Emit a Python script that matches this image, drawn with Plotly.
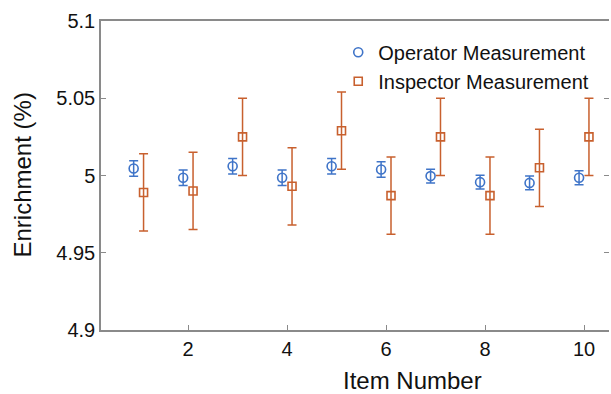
import plotly.graph_objects as go

items = [1, 2, 3, 4, 5, 6, 7, 8, 9, 10]
operator_vals = [5.0045, 4.9985, 5.006, 4.9985, 5.006, 5.0039, 4.9996, 4.9957, 4.9952, 4.9985]
operator_err = [0.005, 0.005, 0.005, 0.005, 0.005, 0.005, 0.0045, 0.0045, 0.0045, 0.0045]
inspector_vals = [4.989, 4.990, 5.025, 4.993, 5.029, 4.987, 5.025, 4.987, 5.005, 5.025]
inspector_err = [0.025, 0.025, 0.025, 0.025, 0.025, 0.025, 0.025, 0.025, 0.025, 0.025]
x_ticks = [2, 4, 6, 8, 10]
y_ticks = [4.9, 4.95, 5.0, 5.05, 5.1]
y_ticklabels = ["4.9", "4.95", "5", "5.05", "5.1"]

BLUE = "#3F74C8"
ORANGE = "#C8602E"
AX = "#8a8a8a"
FONT = "Arial, Liberation Sans, Helvetica, sans-serif"
shift = 0.1

fig = go.Figure()
fig.add_trace(go.Scatter(
    x=[i - shift for i in items], y=operator_vals, mode="markers",
    name="Operator Measurement",
    marker=dict(symbol="circle-open", size=9, color=BLUE, line=dict(width=1.6, color=BLUE)),
    error_y=dict(type="data", array=operator_err, visible=True, color=BLUE, thickness=1.5, width=4.5),
))
fig.add_trace(go.Scatter(
    x=[i + shift for i in items], y=inspector_vals, mode="markers",
    name="Inspector Measurement",
    marker=dict(symbol="square-open", size=8, color=ORANGE, line=dict(width=1.6, color=ORANGE)),
    error_y=dict(type="data", array=inspector_err, visible=True, color=ORANGE, thickness=1.5, width=4.5),
))
# invisible companion trace so the right-hand (tick-only) axis is drawn
fig.add_trace(go.Scatter(
    x=items, y=operator_vals, yaxis="y2", mode="markers", showlegend=False,
    hoverinfo="skip", marker=dict(opacity=0, size=1),
))

fig.update_layout(
    width=611, height=394,
    margin=dict(l=101, r=2, t=21, b=64),
    paper_bgcolor="white", plot_bgcolor="white",
    font=dict(family=FONT, size=20, color="#111111"),
    showlegend=True,
    legend=dict(x=0.467, y=0.962, xanchor="left", yanchor="top",
                bgcolor="rgba(0,0,0,0)", font=dict(size=20, color="#111111"),
                itemwidth=30, tracegroupgap=0),
    annotations=[
        dict(text="Item Number", xref="paper", yref="paper", x=(412 - 101) / 508, y=-(380 - 330) / 309,
             xanchor="center", yanchor="middle", showarrow=False, font=dict(size=24, color="#111111")),
        dict(text="Enrichment (%)", xref="paper", yref="paper", x=-(101 - 22) / 508, y=0.5,
             xanchor="center", yanchor="middle", textangle=-90, showarrow=False,
             font=dict(size=24, color="#111111")),
    ],
    yaxis2=dict(overlaying="y", side="right", range=[4.9, 5.1], tickvals=y_ticks,
                showticklabels=False, showline=False, showgrid=False, zeroline=False,
                ticks="inside", ticklen=5, tickcolor=AX, tickwidth=1.3),
)
fig.update_xaxes(
    range=[0.24, 10.505], tickvals=x_ticks, ticktext=[str(t) for t in x_ticks],
    showline=True, linecolor=AX, linewidth=1.5, mirror=True,
    ticks="inside", ticklen=5, tickcolor=AX, tickwidth=1.3,
    showgrid=False, zeroline=False, tickfont=dict(size=20, color="#111111"),
)
fig.update_layout(yaxis=dict(
    range=[4.9, 5.1], tickvals=y_ticks, ticktext=y_ticklabels,
    showline=True, linecolor=AX, linewidth=1.5, mirror=False,
    ticks="inside", ticklen=5, tickcolor=AX, tickwidth=1.3,
    showgrid=False, zeroline=False, tickfont=dict(size=20, color="#111111"),
))

fig.write_html("out.html")
